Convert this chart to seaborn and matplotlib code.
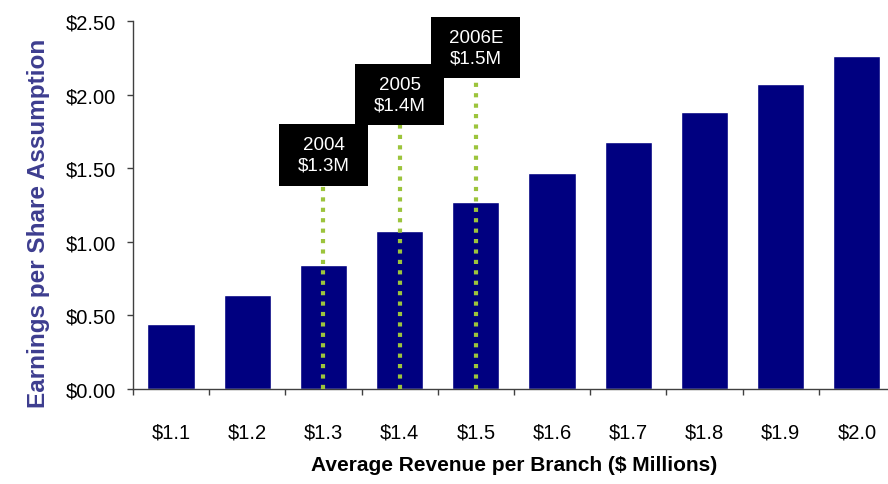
import matplotlib
matplotlib.use("Agg")
import matplotlib.pyplot as plt
import seaborn as sns
import pandas as pd
from matplotlib.patches import Rectangle
from matplotlib.ticker import FixedLocator, FuncFormatter

# Average revenue per branch ($ millions) and the resulting EPS assumption
revenue_labels = ["$1.1", "$1.2", "$1.3", "$1.4", "$1.5",
                  "$1.6", "$1.7", "$1.8", "$1.9", "$2.0"]
eps_values = [0.44, 0.64, 0.84, 1.07, 1.27, 1.47, 1.68, 1.88, 2.07, 2.26]
y_ticks = [0.0, 0.5, 1.0, 1.5, 2.0, 2.5]

# Yearly call-outs: which revenue bar each year sits on
callout_bars = ["$1.3", "$1.4", "$1.5"]
callout_texts = ["2004\n$1.3M", "2005\n$1.4M", "2006E\n$1.5M"]

# Layout of the call-out boxes (bottom edge, in axis units)
box_bottoms = [1.38, 1.79, 2.11]
box_height = 0.42
box_width = 1.17

sns.set_theme(style="ticks")
plt.rcParams["font.family"] = ["Liberation Sans", "DejaVu Sans"]
plt.rcParams["text.parse_math"] = False

fig = plt.figure(figsize=(8.88, 4.85), dpi=100)
fig.patch.set_facecolor("white")
ax = fig.add_axes([0.1498, 0.1959, 0.858, 0.7588])
ax.set_facecolor("white")

df = pd.DataFrame({"revenue": revenue_labels, "eps": eps_values})
sns.barplot(data=df, x="revenue", y="eps", color="#000080", saturation=1,
            width=0.62, ax=ax, zorder=2)

ax.set_xlim(-0.5, len(revenue_labels) - 0.5)
ax.set_ylim(0, 2.5)

# y axis: dollar ticks
ax.yaxis.set_major_locator(FixedLocator(y_ticks))
ax.yaxis.set_major_formatter(FuncFormatter(lambda v, _: f"${v:.2f}"))
ax.tick_params(axis="y", which="major", length=4, width=1, pad=8,
               labelsize=14.5, color="#404040", labelcolor="black")

# x axis: labels under bars, tick marks between categories
ax.set_xticks(range(len(revenue_labels)))
ax.set_xticklabels(revenue_labels)
ax.set_xticks([i - 0.5 for i in range(len(revenue_labels) + 1)], minor=True)
ax.tick_params(axis="x", which="major", length=0, pad=24,
               labelsize=14.5, labelcolor="black")
ax.tick_params(axis="x", which="minor", length=4.5, width=1,
               direction="out", color="#404040")

for side in ("top", "right"):
    ax.spines[side].set_visible(False)
for side in ("left", "bottom"):
    ax.spines[side].set_color("#404040")
    ax.spines[side].set_linewidth(1)

ax.set_xlabel("Average Revenue per Branch ($ Millions)", fontsize=15,
              fontweight="bold", color="black")
ax.xaxis.set_label_coords(0.5, -0.2065)
ax.xaxis.label.set_va("center")
ax.set_ylabel("Earnings per Share Assumption", fontsize=17.5,
              fontweight="bold", color="#3d3d8f")
ax.yaxis.set_label_coords(-0.109, 0.454)

# Call-out boxes with dotted leaders down through the bars
for name, text, bottom in zip(callout_bars, callout_texts, box_bottoms):
    idx = revenue_labels.index(name)
    ax.plot([idx, idx], [0, bottom], color="#9cc43c", lw=3,
            linestyle=(0, (1, 1.5)), zorder=3, clip_on=False)
    ax.add_patch(Rectangle((idx - box_width / 2, bottom), box_width,
                           box_height, facecolor="black", edgecolor="none",
                           zorder=4, clip_on=False))
    ax.text(idx, bottom + box_height / 2, text, ha="center", va="center",
            color="white", fontsize=13.5, linespacing=1.25, zorder=5,
            clip_on=False)

fig.savefig("out.png", dpi=100, facecolor="white")
